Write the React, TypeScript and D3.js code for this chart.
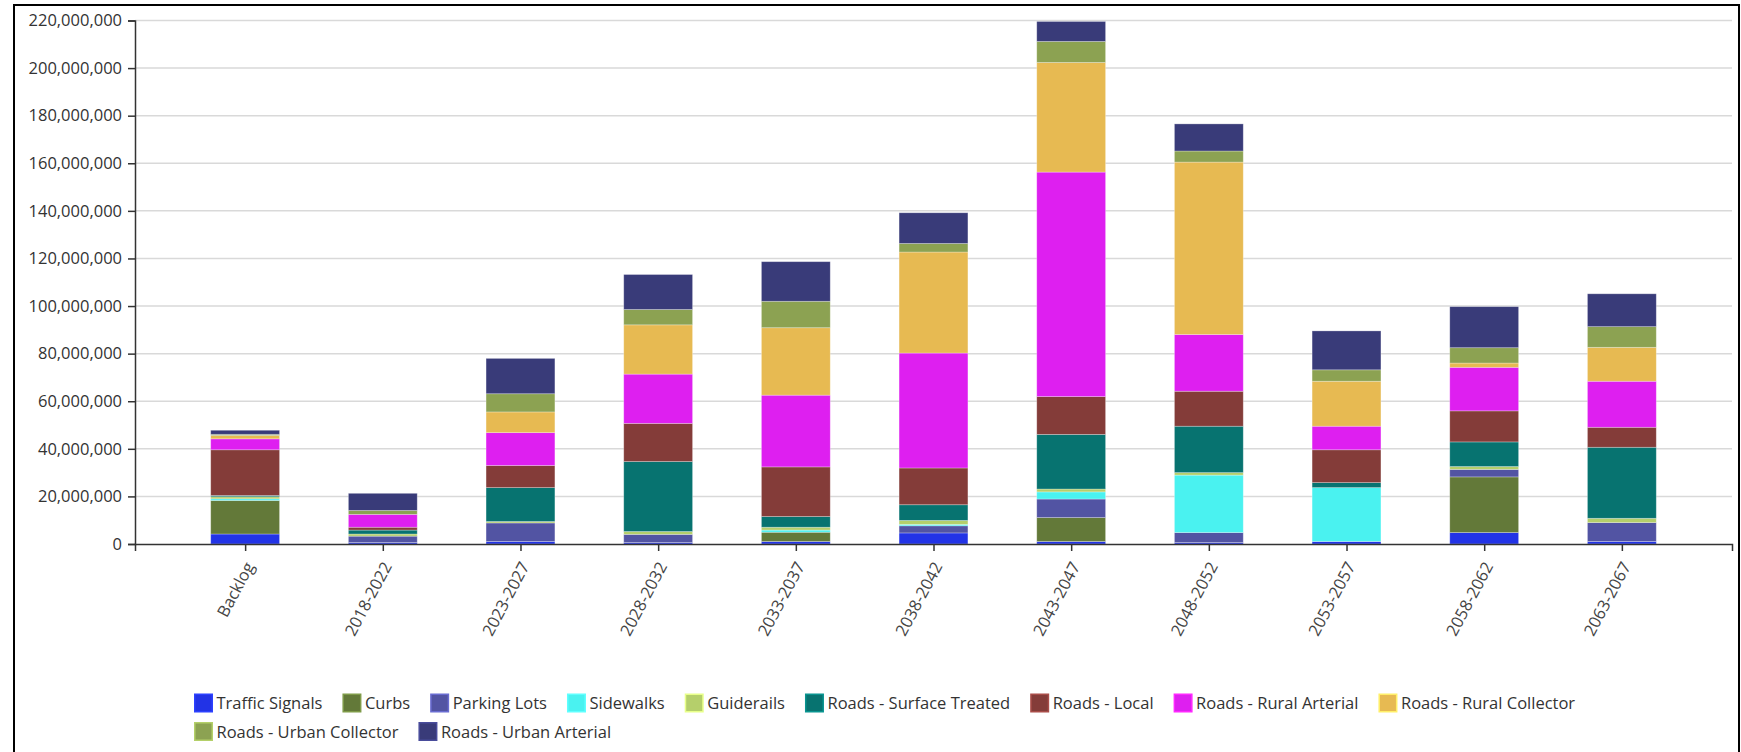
import React, { useEffect, useRef } from "react";
import * as d3 from "d3";

const categories = ["Backlog", "2018-2022", "2023-2027", "2028-2032", "2033-2037", "2038-2042", "2043-2047", "2048-2052", "2053-2057", "2058-2062", "2063-2067"];

const seriesNames = ["Traffic Signals", "Curbs", "Parking Lots", "Sidewalks", "Guiderails", "Roads - Surface Treated", "Roads - Local", "Roads - Rural Arterial", "Roads - Rural Collector", "Roads - Urban Collector", "Roads - Urban Arterial"];
const seriesColors = ["#2233e6", "#637939", "#5254a3", "#4af2f0", "#b5cf6b", "#077370", "#843c39", "#de1ff0", "#e7ba52", "#8ca252", "#393b79"];

// values in millions of dollars
const trafficSignals = [4.2, 0.6, 1.05, 0.6, 1.05, 4.65, 1.05, 0.6, 1.05, 4.8, 1.05];
const curbs = [14.1, 0, 0, 0, 3.9, 0, 10.05, 0, 0, 23.4, 0];
const parkingLots = [0, 2.7, 7.8, 3.45, 0, 3.0, 7.8, 4.2, 0, 3.15, 7.95];
const sidewalks = [0.7, 0, 0, 0, 0.9, 0.6, 3.0, 24.15, 22.65, 0, 0];
const guiderails = [0.85, 0.9, 0.6, 1.2, 1.2, 1.65, 1.2, 1.05, 0, 1.2, 1.8];
const surfaceTreated = [0.55, 1.65, 14.25, 29.4, 4.5, 6.6, 22.95, 19.5, 2.1, 10.35, 29.85];
const roadsLocal = [19.2, 1.2, 9.3, 16.05, 20.85, 15.45, 15.9, 14.7, 13.8, 13.05, 8.4];
const ruralArterial = [4.6, 5.4, 13.8, 20.7, 30.15, 48.3, 94.35, 23.85, 9.9, 18.3, 19.35];
const ruralCollector = [1.4, 0, 8.7, 20.7, 28.35, 42.45, 46.05, 72.45, 18.9, 1.8, 14.25];
const urbanCollector = [0.5, 1.65, 7.65, 6.45, 11.1, 3.6, 8.85, 4.65, 4.8, 6.45, 8.7];
const urbanArterial = [1.7, 7.2, 14.85, 14.7, 16.65, 12.9, 8.4, 11.4, 16.35, 17.25, 13.8];

const seriesValues = [trafficSignals, curbs, parkingLots, sidewalks, guiderails, surfaceTreated, roadsLocal, ruralArterial, ruralCollector, urbanCollector, urbanArterial];

const yTicks = [0, 20e6, 40e6, 60e6, 80e6, 100e6, 120e6, 140e6, 160e6, 180e6, 200e6, 220e6];

const W = 1741;
const H = 752;
const FONT = "'Open Sans', sans-serif";

export default function App() {
  const ref = useRef<SVGSVGElement | null>(null);

  useEffect(() => {
    const svg = d3.select(ref.current);
    svg.selectAll("*").remove();

    const left = 135, right = 1732, top = 20.5, bottom = 544;

    const x = d3.scalePoint<string>().domain(categories).range([left, right]).padding(0.8);
    const y = d3.scaleLinear().domain([0, 220e6]).range([bottom, top]);
    const barW = x.step() * 0.5;

    // frame
    svg.append("rect").attr("x", 14).attr("y", 5).attr("width", 1725).attr("height", 800)
      .attr("fill", "none").attr("stroke", "#000").attr("stroke-width", 2);

    // grid
    svg.append("g").selectAll("line").data(yTicks.slice(1)).join("line")
      .attr("x1", left).attr("x2", right)
      .attr("y1", (d) => y(d)).attr("y2", (d) => y(d))
      .attr("stroke", "#d9d9d9").attr("stroke-width", 1.5);

    // stacked data
    const rows = categories.map((c, i) => {
      const r: any = { cat: c };
      seriesNames.forEach((s, k) => (r[s] = seriesValues[k][i] * 1e6));
      return r;
    });
    const stack = d3.stack<any>().keys(seriesNames)(rows);

    const gBars = svg.append("g");
    stack.forEach((layer, k) => {
      gBars.append("g").attr("fill", seriesColors[k])
        .selectAll("rect").data(layer.filter((d) => d[1] - d[0] > 0)).join("rect")
        .attr("x", (d: any) => (x(d.data.cat) as number) - barW / 2)
        .attr("width", barW)
        .attr("y", (d) => y(d[1]))
        .attr("height", (d) => y(d[0]) - y(d[1]))
        .attr("stroke", "#ffffff").attr("stroke-opacity", 0.35).attr("stroke-width", 0.8);
    });

    // y axis
    const yAxis = svg.append("g").attr("transform", `translate(${left},0)`)
      .call(d3.axisLeft(y).tickValues(yTicks).tickFormat(d3.format(",") as any).tickSize(7).tickPadding(6));
    yAxis.selectAll("path,line").attr("stroke", "#333").attr("stroke-width", 1.5);
    yAxis.selectAll("text").attr("font-family", FONT).attr("font-size", 16.5).attr("fill", "#333");

    // x axis
    const xAxis = svg.append("g").attr("transform", `translate(0,${bottom})`)
      .call(d3.axisBottom(x).tickSize(7));
    xAxis.selectAll("path,line").attr("stroke", "#333").attr("stroke-width", 1.5);
    xAxis.selectAll("text")
      .attr("font-family", FONT).attr("font-size", 16.5).attr("fill", "#444")
      .attr("x", null).attr("y", null).attr("dy", null)
      .attr("text-anchor", "end")
      .attr("transform", "translate(9,22) rotate(-62)");

    // legend
    const lg = svg.append("g").attr("font-family", FONT).attr("font-size", 16.5).attr("fill", "#333");
    const rowsY = [703, 731.5];
    const startX = 194;
    let cx = startX;
    let row = 0;
    seriesNames.forEach((s, k) => {
      if (k === 9) { row = 1; cx = startX; }
      const item = lg.append("g").attr("transform", `translate(${cx},${rowsY[row]})`);
      item.append("rect").attr("x", 0.75).attr("y", -8.75).attr("width", 17.5).attr("height", 17.5)
        .attr("fill", seriesColors[k])
        .attr("stroke", (d3.color(seriesColors[k]) as any).brighter(0.7).formatHex())
        .attr("stroke-width", 1.5);
      const t = item.append("text").attr("x", 22.5).attr("y", 6).text(s);
      const w = (t.node() as SVGTextElement).getComputedTextLength();
      cx += 22.5 + w + 20;
    });
  }, []);

  return (
    <svg ref={ref} width={W} height={H} style={{ position: "absolute", left: 0, top: 0, background: "#fff" }} />
  );
}
